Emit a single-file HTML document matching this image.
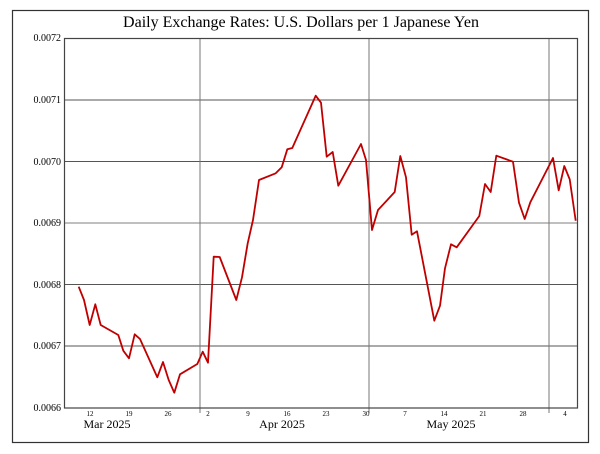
<!DOCTYPE html>
<html><head><meta charset="utf-8"><style>
html,body{margin:0;padding:0;background:#fff;}
svg{display:block;}
text{font-family:"Liberation Serif",serif;}
</style></head><body>
<svg width="600" height="454" viewBox="0 0 600 454" xmlns="http://www.w3.org/2000/svg">
<rect x="12.5" y="10.5" width="576" height="432" fill="#fff" stroke="#333" stroke-width="1.2"/>
<text x="301" y="27" font-size="16" text-anchor="middle">Daily Exchange Rates: U.S. Dollars per 1 Japanese Yen</text>
<g stroke="#555" stroke-width="1">
<line x1="64" y1="100" x2="577" y2="100"/>
<line x1="64" y1="161.5" x2="577" y2="161.5"/>
<line x1="64" y1="223" x2="577" y2="223" stroke="#aaa" stroke-width="1.5"/>
<line x1="64" y1="284.5" x2="577" y2="284.5"/>
<line x1="64" y1="346" x2="577" y2="346"/>
<line x1="200" y1="38" x2="200" y2="413" stroke="#777"/>
<line x1="369" y1="38" x2="369" y2="413" stroke="#777"/>
<line x1="549" y1="38" x2="549" y2="413" stroke="#777"/>
</g>
<rect x="64.5" y="38.5" width="513" height="369.5" fill="none" stroke="#444" stroke-width="1.2"/>
<g font-size="10" text-anchor="end">
<text x="61" y="41">0.0072</text>
<text x="61" y="103">0.0071</text>
<text x="61" y="165">0.0070</text>
<text x="61" y="226">0.0069</text>
<text x="61" y="288">0.0068</text>
<text x="61" y="349">0.0067</text>
<text x="61" y="411">0.0066</text>
</g>
<g font-size="7" text-anchor="middle">
<text x="90" y="416">12</text><text x="129" y="416">19</text><text x="168" y="416">26</text>
<text x="208" y="416">2</text><text x="248" y="416">9</text><text x="287" y="416">16</text>
<text x="326" y="416">23</text><text x="366" y="416">30</text><text x="405" y="416">7</text>
<text x="444" y="416">14</text><text x="483" y="416">21</text><text x="523" y="416">28</text>
<text x="565" y="416">4</text>
</g>
<g font-size="12" text-anchor="middle">
<text x="107" y="428">Mar 2025</text>
<text x="282" y="428">Apr 2025</text>
<text x="451" y="428">May 2025</text>
</g>
<polyline fill="none" stroke="#c00000" stroke-width="1.8" stroke-linejoin="round" points="78.7,286.7 84,300 89.7,325 95.3,304.3 100.7,325 118.3,335 123.3,350.7 129,358.3 134.7,334.3 140,339 157.3,377.3 163,362 168.7,380 174.3,392.7 180,374.3 197.3,364 202.7,351.7 208,362.7 213.7,256.7 219.7,257 236.3,300 242,277.3 247.7,243.3 253,220 259,180 275.7,173.3 281.7,167.3 287.3,149.3 292.3,148 315.7,95.7 321,102.7 326.7,156.7 332.7,152 338.3,185.7 361,144 366,160 372,230 378,210 394.7,192 400.3,156 406,177.3 411.7,234.7 417,231.3 434.3,320.7 440,305.7 445,268.3 451,244.3 456.7,247.3 479.3,216 485,184 490.7,192 496.3,155.7 513,161.7 519,202.7 524.7,219 530.3,202.3 553,158 558.7,190.3 564.3,166 569.7,179.3 575.7,220.7"/>
</svg>
</body></html>
